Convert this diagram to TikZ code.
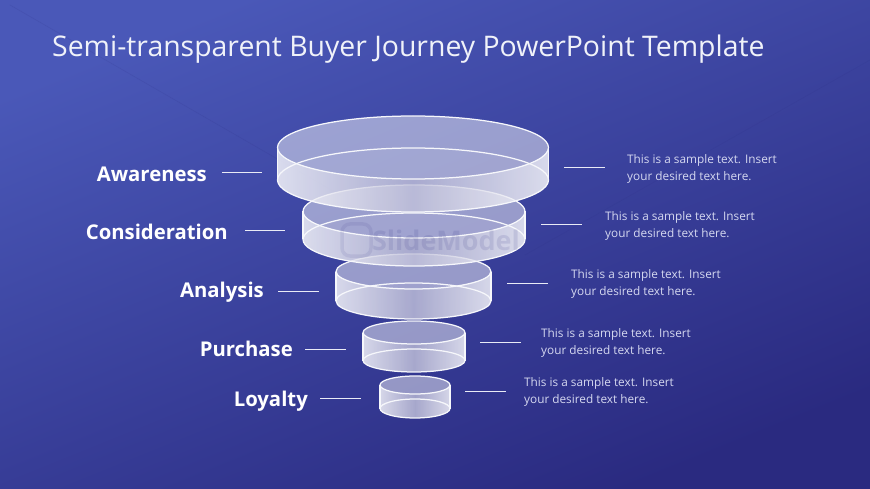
\documentclass[tikz,border=0pt]{standalone}
\usepackage{fontspec}
\setmainfont{Open Sans}
\usetikzlibrary{calc}

\definecolor{slidetl}{HTML}{4A58B8}
\definecolor{slidebr}{HTML}{2A2A80}
\definecolor{bodytext}{HTML}{D5D8F0}
\pgfdeclarehorizontalshading{wallglass}{100bp}{
  color(0bp)=(white); color(25bp)=(white);
  color(50bp)=(white!68!slidebr); color(75bp)=(white); color(100bp)=(white)}

\tikzset{
  ringedge/.style={draw=white!95!slidetl,line width=1.25pt},
  wallfill/.style={shading=wallglass,fill opacity=.8},
  lidfill/.style={fill=white,fill opacity=.48},
  floorfill/.style={fill=white,fill opacity=.08},
  tick/.style={draw=white!88!slidetl,line width=1pt},
  stagelabel/.style={anchor=base east,text=white,font=\fontsize{20.3}{24}\selectfont\bfseries,inner sep=0pt},
  sidetext/.style={anchor=west,align=left,text=bodytext,font=\fontsize{11.8}{17}\selectfont,inner sep=0pt}
}

% cx, rx, top y, top ry, bottom y, bottom ry
\newcommand{\glassring}[6]{
  \path[wallfill] (#1-#2,#3) -- (#1-#2,#5)
    arc[start angle=180,end angle=360,x radius=#2pt,y radius=#6pt]
    -- (#1+#2,#3)
    arc[start angle=0,end angle=-180,x radius=#2pt,y radius=#4pt] -- cycle;
  \path[lidfill] (#1,#3) ellipse[x radius=#2pt,y radius=#4pt];
  \path[floorfill] (#1,#5) ellipse[x radius=#2pt,y radius=#6pt];
  \draw[ringedge] (#1-#2,#3) -- (#1-#2,#5) (#1+#2,#3) -- (#1+#2,#5);
  \draw[ringedge] (#1,#3) ellipse[x radius=#2pt,y radius=#4pt];
  \draw[ringedge] (#1,#5) ellipse[x radius=#2pt,y radius=#6pt];
}

\begin{document}
\begin{tikzpicture}[x=1pt,y=-1pt]
  \shade[shading=axis,left color=slidetl,right color=slidebr,shading angle=22] (0,0) rectangle (870,489);
  \useasboundingbox (0,0) rectangle (870,489);
  % faint streaks
  \draw[slidebr,opacity=.14,line width=.6pt] (10,5) -- (340,195);
  \draw[slidebr,opacity=.12,line width=.6pt] (870,60) -- (525,255);

  \node[anchor=west,text=white!92!slidetl,font=\fontsize{28.4}{32}\selectfont,inner sep=0pt] (title) at (52,49) {Semi-transparent Buyer Journey PowerPoint Template};

  \glassring{415}{35}{385}{9}{408.5}{9.5}
  \glassring{414}{51}{332.5}{11.5}{360.5}{11.5}
  \glassring{413.5}{77.5}{271.5}{17.5}{301}{18}
  \glassring{414}{111}{211.5}{26.5}{239.5}{26.5}
  \glassring{413}{135.5}{147.5}{31.5}{180}{32}

  \node[text=slidebr,opacity=.12,font=\fontsize{27}{32}\selectfont\bfseries,inner sep=0pt] (mark) at (446,240) {SlideModel};
  \draw[slidebr,opacity=.09,line width=3.5pt,rounded corners=8pt] (342,224) rectangle (371,256);

  \foreach \lname/\ltext/\lx/\ly/\ta/\tb/\ty/\sx/\sy/\sa/\sb/\sl in {
      aware/Awareness/207/182/222/262/173/627/168/564/605/168,
      consider/Consideration/228/240/245/285/231/605/225/541/582/225,
      analysis/Analysis/264/297/278/319/291/571/283/507/548/283,
      purchase/Purchase/293/356/305/346/349/541/342/480/521/342,
      loyalty/Loyalty/308/406/320/361/398/524/391/465/506/391} {
    \node[stagelabel] (\lname) at (\lx,\ly) {\ltext};
    \coordinate (\lname a) at (\ta,\ty);
    \coordinate (\lname b) at (\tb,\ty);
    \draw[tick] (\lname a) -- (\lname b);
    \node[sidetext] (\lname text) at (\sx,\sy+1) {This is a sample text. Insert\\your desired text here.};
    \coordinate (\lname c) at (\sa,\sl);
    \coordinate (\lname d) at (\sb,\sl);
    \draw[tick] (\lname c) -- (\lname d);
  }
\end{tikzpicture}
\end{document}
